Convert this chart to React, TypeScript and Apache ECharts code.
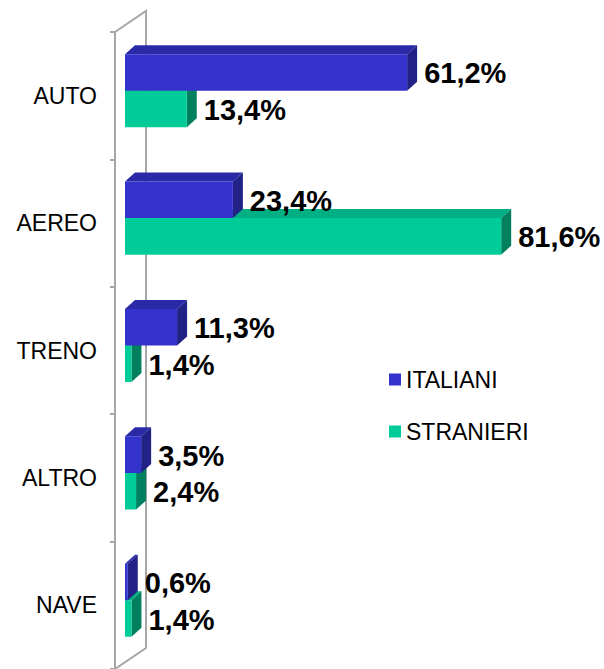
import React, { useEffect, useRef } from "react";
import * as echarts from "echarts";

const CATEGORIES = ["AUTO", "AEREO", "TRENO", "ALTRO", "NAVE"];
const ITALIANI = [61.2, 23.4, 11.3, 3.5, 0.6];
const STRANIERI = [13.4, 81.6, 1.4, 2.4, 1.4];
const SERIES_NAMES = ["ITALIANI", "STRANIERI"];

const FONT = "'Liberation Sans', Arial, Helvetica, sans-serif";
const DX = 10;
const DY = 9;
const SHIFT = -5;
const BAR_RATIO = 0.287;

const BLUE = { front: "#3333CC", top: "#2A2AA8", side: "#212186" };
const GREEN = { front: "#00CC99", top: "#00B084", side: "#00805F" };

function fmt(v: number) {
  return v.toFixed(1).replace(".", ",") + "%";
}

function makeRender(upper: boolean, c: { front: string; top: string; side: string }) {
  return (params: any, api: any) => {
    const cat = api.value(0);
    const v = api.value(1);
    const p0 = api.coord([0, cat]);
    const p1 = api.coord([v, cat]);
    const band = api.size([0, 1])[1];
    const h = band * BAR_RATIO;
    const xa = p0[0] + DX;
    const xb = p1[0] + DX;
    const yc = p0[1] + SHIFT;
    const yTop = upper ? yc - h : yc;
    const yBot = yTop + h;
    return {
      type: "group",
      children: [
        {
          type: "polygon",
          shape: { points: [[xa, yTop], [xa + DX, yTop - DY], [xb + DX, yTop - DY], [xb, yTop]] },
          style: { fill: c.top },
        },
        {
          type: "polygon",
          shape: { points: [[xb, yTop], [xb + DX, yTop - DY], [xb + DX, yBot - DY], [xb, yBot]] },
          style: { fill: c.side },
        },
        {
          type: "rect",
          shape: { x: xa, y: yTop, width: Math.max(xb - xa, 0.5), height: h },
          style: { fill: c.front },
        },
        {
          type: "text",
          style: {
            text: fmt(v),
            x: xb + DX + 7,
            y: (yTop + yBot) / 2 + 1,
            align: "left",
            verticalAlign: "middle",
            fill: "#000",
            font: `bold 29px ${FONT}`,
          },
        },
      ],
    };
  };
}

export default function App() {
  const ref = useRef<HTMLDivElement>(null);
  useEffect(() => {
    document.body.style.margin = "0";
    const chart = echarts.init(ref.current!, null, { renderer: "svg" });
    chart.setOption({
      animation: false,
      backgroundColor: "#fff",
      grid: { left: 115, right: 28, top: 32, bottom: 0 },
      xAxis: { type: "value", min: 0, max: 100, show: false },
      yAxis: {
        type: "category",
        data: CATEGORIES,
        inverse: true,
        axisLine: { show: true, lineStyle: { color: "#A6A6A6", width: 2 } },
        axisTick: { show: true, length: 5, lineStyle: { color: "#A6A6A6", width: 2 } },
        axisLabel: { color: "#000", fontSize: 23, fontFamily: FONT, margin: 18 },
        splitLine: { show: false },
      },
      legend: {
        data: SERIES_NAMES,
        orient: "vertical",
        left: 389,
        top: 368,
        padding: 0,
        itemWidth: 12,
        itemHeight: 12,
        itemGap: 29,
        icon: "rect",
        textStyle: { color: "#000", fontSize: 23, fontFamily: FONT, lineHeight: 22 },
      },
      graphic: [
        {
          type: "polyline",
          shape: { points: [[115, 32], [146, 11], [146, 648], [115, 669]] },
          style: { stroke: "#A6A6A6", lineWidth: 2, fill: "none" },
          z: 0,
        },
      ],
      series: [
        {
          name: "STRANIERI",
          type: "custom",
          itemStyle: { color: GREEN.front },
          encode: { y: 0, x: 1 },
          data: CATEGORIES.map((_, i) => [i, STRANIERI[i]]),
          renderItem: makeRender(false, GREEN),
          z: 2,
        },
        {
          name: "ITALIANI",
          type: "custom",
          itemStyle: { color: BLUE.front },
          encode: { y: 0, x: 1 },
          data: CATEGORIES.map((_, i) => [i, ITALIANI[i]]),
          renderItem: makeRender(true, BLUE),
          z: 3,
        },
      ],
    });
    return () => chart.dispose();
  }, []);
  return (
    <div
      ref={ref}
      style={{ position: "fixed", left: 0, top: 0, width: 604, height: 669 }}
    />
  );
}
